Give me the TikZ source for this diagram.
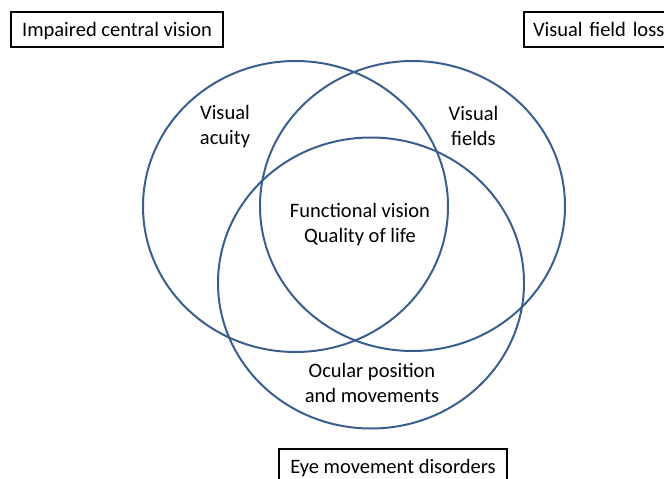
\documentclass[tikz,border=0pt]{standalone}
\usepackage{fontspec}
\setmainfont{Carlito}
\definecolor{ringblue}{HTML}{3A5F8F}

\begin{document}
\begin{tikzpicture}%
        [x=1pt, y=-1pt,
        ring/.style={color=ringblue, line width=2pt},
        label/.style={align=center, inner sep=0pt, font=\fontsize{20.5}{25}\selectfont},
        frame/.style={draw=black, line width=2pt, inner xsep=9pt, inner ysep=0pt,
                      minimum height=35pt, text height=13.2pt, text depth=0pt,
                      font=\fontsize{20.5}{25}\selectfont}]
%
%% Page size
%%
\useasboundingbox (0,0) rectangle (664,479);
\clip (0,0) rectangle (664,479);
%%
%% Centres of the three rings
%%
\coordinate (acuity) at (295.5, 206.5);
\coordinate (fields) at (412.5, 206);
\coordinate (ocular) at (371, 283);
%%
%% Drawing the rings
%%
\draw[ring] (acuity) ellipse (152.5 and 145.5);
\draw[ring] (fields) ellipse (152.5 and 145);
\draw[ring] (ocular) ellipse (153 and 145.5);
%%
%% Labels inside the rings
%%
\node[label] (acuityText) at (225, 127) {Visual\\acuity};
\node[label] (fieldsText) at (473.5, 126) {Visual\\fields};
\node[label] (centreText) at (360, 225) {Functional vision\\Quality of life};
\node[label] (ocularText) at (372, 383) {Ocular position\\and movements};
%%
%% Framed titles
%%
\node[frame, minimum width=212pt] (central) at (117, 29.5) {Impaired central vision};
\node[frame, anchor=west, minimum width=160pt, text width=150pt] (fieldLoss) at (523, 29.5) {Visual field loss};
\node[frame, minimum width=228pt] (movement) at (393, 466.5) {Eye movement disorders};
\end{tikzpicture}
\end{document}
